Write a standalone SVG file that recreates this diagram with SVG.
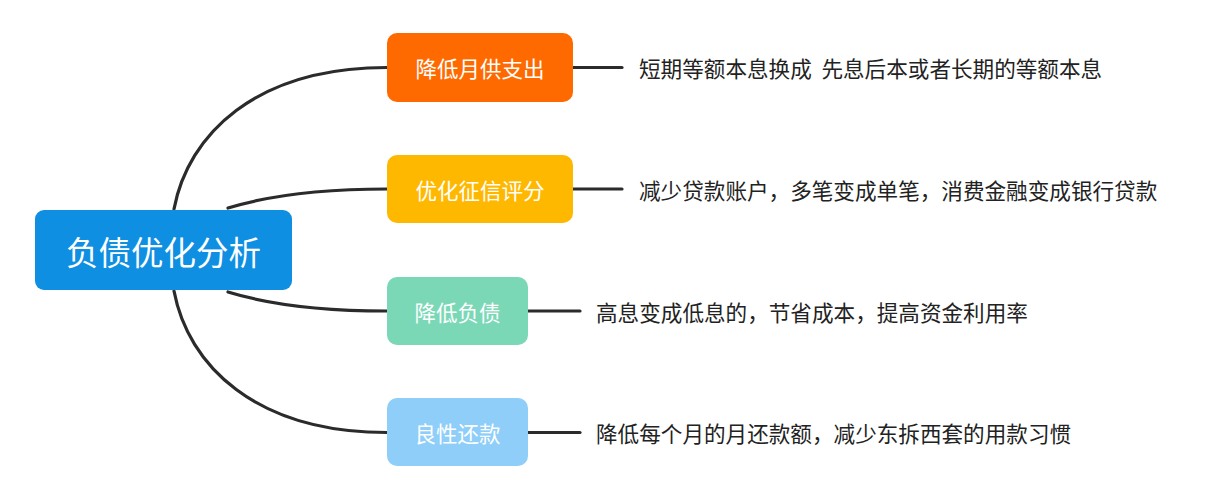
<svg xmlns="http://www.w3.org/2000/svg" width="1205" height="500" viewBox="0 0 1205 500">
<style>
.lnk{fill:none;stroke:#2b2b2b;stroke-width:3.2;stroke-linecap:round}
.nt{font-family:"Noto Sans CJK SC","Noto Sans",sans-serif;fill:#ffffff;text-anchor:middle;dominant-baseline:central}
.lt{font-family:"Noto Sans CJK SC","Noto Sans",sans-serif;fill:#222222;font-size:21.6px;dominant-baseline:central}
</style>
<rect width="1205" height="500" fill="#ffffff"/>
<g id="connectors">
<path class="lnk" d="M174,209 C188,135 255,67.5 387,67.5"/>
<path class="lnk" d="M228,208 Q290,189 387,189"/>
<path class="lnk" d="M228,292 Q290,311 387,311"/>
<path class="lnk" d="M174,291 C188,365 255,432.5 387,432.5"/>
<path class="lnk" d="M572,67.5 H622"/>
<path class="lnk" d="M572,189 H622"/>
<path class="lnk" d="M528,311 H580"/>
<path class="lnk" d="M528,432.5 H580"/>
</g>
<g id="root">
<rect x="35" y="210" width="257" height="80" rx="9" fill="#0f8fe2"/>
<text class="nt" x="163.5" y="250" font-size="32.5">负债优化分析</text>
</g>
<g id="n1">
<rect x="387" y="33" width="186" height="69" rx="10" fill="#ff6a00"/>
<text class="nt" x="480" y="67.5" font-size="21.5">降低月供支出</text>
</g>
<g id="n2">
<rect x="387" y="155" width="186" height="68" rx="10" fill="#ffb800"/>
<text class="nt" x="480" y="189" font-size="21.5">优化征信评分</text>
</g>
<g id="n3">
<rect x="387" y="277" width="141" height="68" rx="10" fill="#7bd8b6"/>
<text class="nt" x="457.5" y="311" font-size="21.5">降低负债</text>
</g>
<g id="n4">
<rect x="387" y="398" width="141" height="68" rx="10" fill="#8ecef9"/>
<text class="nt" x="457.5" y="432.5" font-size="21.5">良性还款</text>
</g>
<g id="labels">
<text class="lt" x="639" y="67.5" xml:space="preserve">短期等额本息换成  先息后本或者长期的等额本息</text>
<text class="lt" x="639" y="189">减少贷款账户，多笔变成单笔，消费金融变成银行贷款</text>
<text class="lt" x="596" y="311">高息变成低息的，节省成本，提高资金利用率</text>
<text class="lt" x="596" y="432.5">降低每个月的月还款额，减少东拆西套的用款习惯</text>
</g>
</svg>
